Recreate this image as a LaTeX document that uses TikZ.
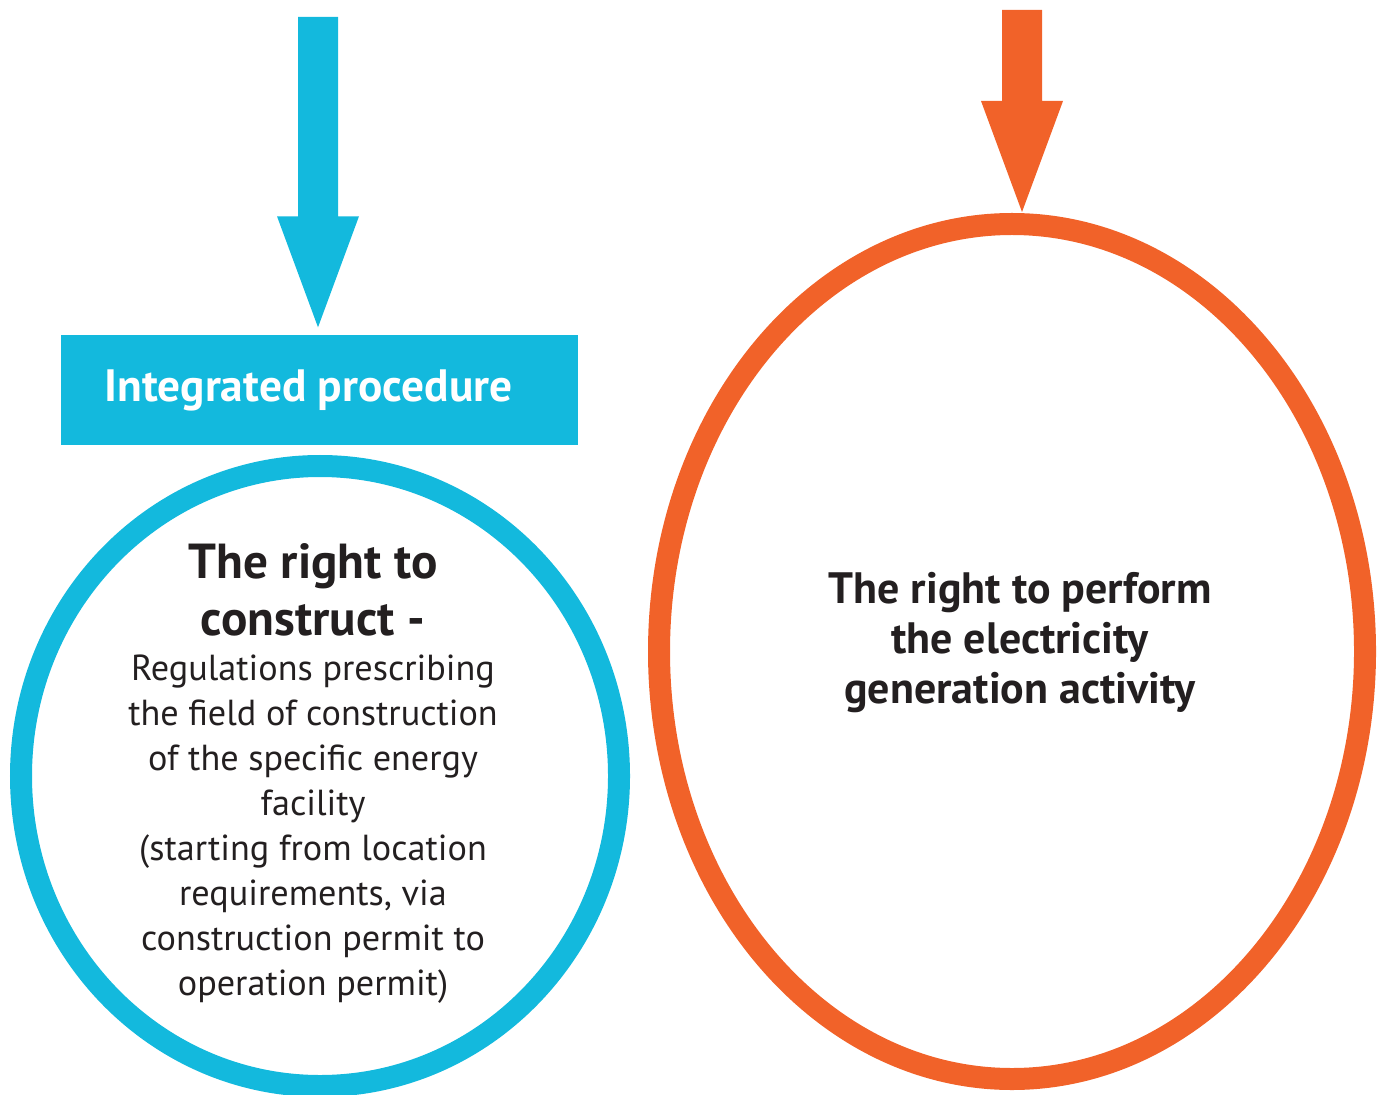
\documentclass[tikz,border=0pt]{standalone}
\usepackage{fontspec}
\setmainfont{PT Sans}
\usetikzlibrary{calc,positioning,shapes.geometric}
\definecolor{ebblue}{RGB}{19,185,221}
\definecolor{eborange}{RGB}{241,98,41}
\definecolor{ebtext}{RGB}{35,31,32}

% block arrow: colour, start of the shaft, tip
\newcommand{\blockarrow}[3]{%
\fill[#1] let \p1=(#2), \p2=(#3) in
  (\x1-0.2cm,\y1) -- (\x1+0.2cm,\y1) -- (\x1+0.2cm,\y2+1.11cm) -- (\x1+0.41cm,\y2+1.11cm)
  -- (\x1,\y2) -- (\x1-0.41cm,\y2+1.11cm) -- (\x1-0.2cm,\y2+1.11cm) -- cycle;}

\tikzset{
procbox/.style={fill=ebblue, minimum width=5.17cm, minimum height=1.10cm, inner sep=0pt,
  text=white, font=\bfseries\fontsize{12.9}{15}\selectfont},
ring/.style={ellipse, line width=0.22cm, inner sep=0pt},
headtext/.style={align=center, text=ebtext, inner sep=0pt, font=\bfseries\fontsize{14}{16.2}\selectfont},
bodytext/.style={align=center, text=ebtext, inner sep=0pt, font=\fontsize{10.3}{12.8}\selectfont},
acttext/.style={align=center, text=ebtext, inner sep=0pt, font=\bfseries\fontsize{12.5}{14.2}\selectfont},
}

\begin{document}
\begin{tikzpicture}
\useasboundingbox (0,0) rectangle (13.81,-10.95);

% left: construction
\node[procbox] (proc) at (3.195,-3.90) {Integrated procedure\kern0.22cm};
\node[ring, draw=ebblue, minimum width=5.98cm, minimum height=6.20cm] (build) at (3.20,-7.76) {};
\node[headtext, anchor=base] (rightA) at (3.13,-6.35) {The right to\\construct -};
\node[bodytext, anchor=base] (rulesA) at (3.13,-9.95) {Regulations prescribing\\the field of construction\\of the specific energy\\facility\\(starting from location\\requirements, via\\construction permit to\\operation permit)};

% right: generation
\node[ring, draw=eborange, minimum width=7.06cm, minimum height=8.55cm] (gen) at (10.12,-6.515) {};
\node[acttext, anchor=base] (rightB) at (10.20,-7.03) {The right to perform\\the electricity\\generation activity};

% arrows
\coordinate (startA) at (3.18,-0.17);
\coordinate (tipA) at ($(proc.north)+(0,0.07)$);
\blockarrow{ebblue}{startA}{tipA}
\coordinate (startB) at (10.22,-0.10);
\coordinate (tipB) at ($(gen.north)+(0,0.01)$);
\blockarrow{eborange}{startB}{tipB}
\end{tikzpicture}
\end{document}
